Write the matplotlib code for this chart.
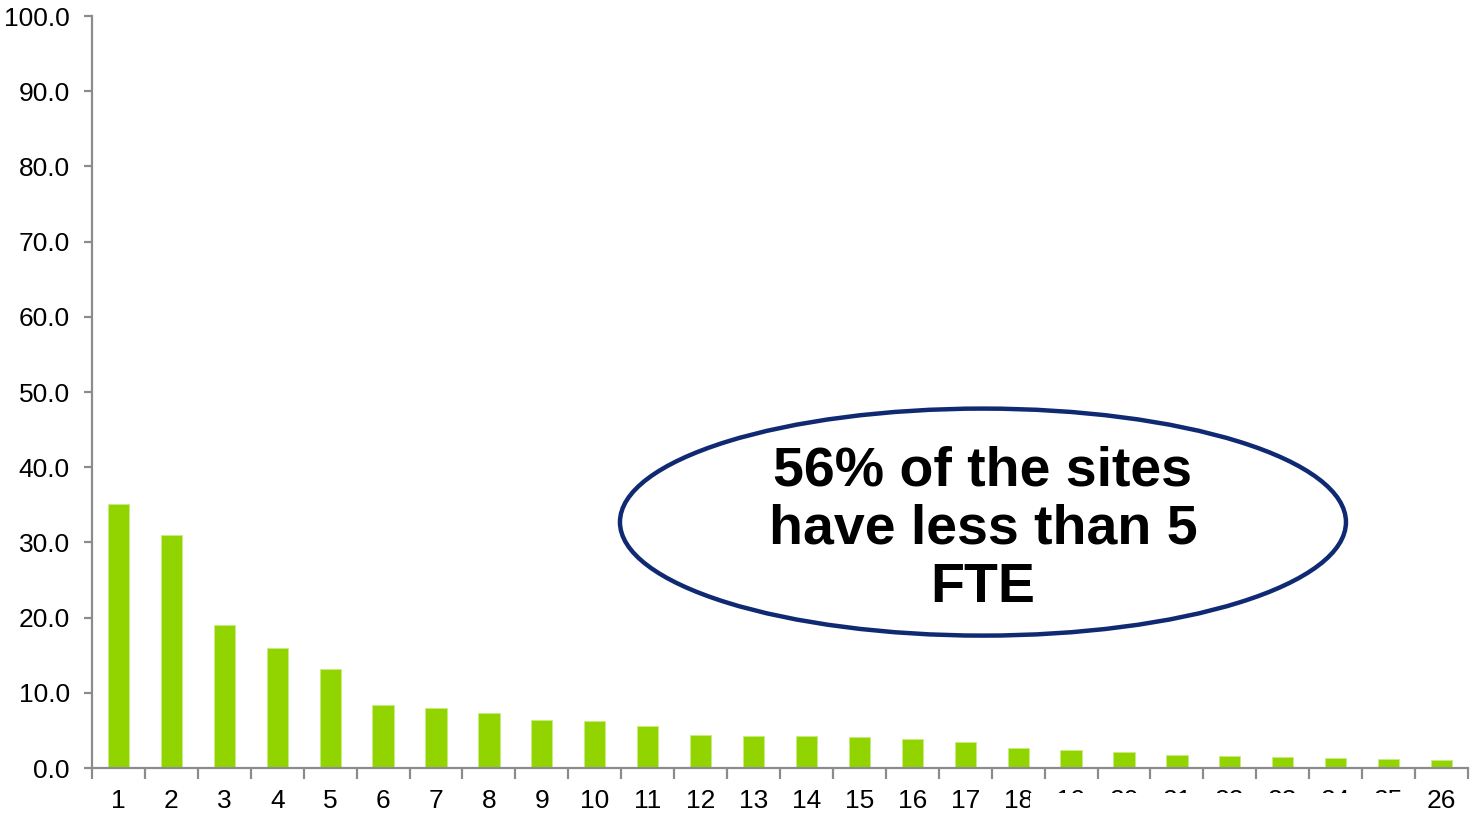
import numpy as np
import matplotlib
matplotlib.use("Agg")
import matplotlib.pyplot as plt
from matplotlib.patches import Ellipse, Rectangle

plt.rcParams['font.family'] = ['Liberation Sans', 'DejaVu Sans']

sites = [str(i) for i in range(1, 27)]
fte = [35.1, 31.0, 19.0, 16.0, 13.2, 8.4, 8.0, 7.3, 6.4, 6.25, 5.6, 4.4, 4.3,
       4.3, 4.1, 3.9, 3.5, 2.65, 2.4, 2.1, 1.7, 1.55, 1.5, 1.3, 1.2, 1.05]
y_ticks = np.arange(0, 101, 10)
note = "56% of the sites\nhave less than 5\nFTE"

fig = plt.figure(figsize=(14.7, 8.13), dpi=100)
ax = fig.add_axes([92 / 1470, 45 / 813, 1376 / 1470, 752 / 813])

x = np.arange(len(sites))
ax.bar(x, fte, width=0.4, color='#92d400', edgecolor='#c8ec80', linewidth=0.6)

ax.set_xlim(-0.5, len(sites) - 0.5)
ax.set_ylim(0, 100)
ax.set_yticks(y_ticks)
ax.set_yticklabels([f"{v:.1f}" for v in y_ticks])
ax.set_xticks(x)
ax.set_xticklabels(sites)
ax.set_xticks(np.arange(-0.5, len(sites)), minor=True)

for s in ['top', 'right']:
    ax.spines[s].set_visible(False)
for s in ['left', 'bottom']:
    ax.spines[s].set_color('#8c8c8c')
    ax.spines[s].set_linewidth(1.6)

ax.tick_params(axis='x', which='major', length=0, pad=15, labelsize=19)
ax.tick_params(axis='x', which='minor', length=8, width=1.6, color='#8c8c8c')
ax.tick_params(axis='y', length=6, width=1.6, color='#8c8c8c', pad=10,
               labelsize=19)

ell = Ellipse((0.6475, 0.327), 726 / 1376, 227 / 752, transform=ax.transAxes,
              facecolor='white', edgecolor='#0f2a72', linewidth=3.2, zorder=5)
ax.add_patch(ell)
ax.text(0.6475, 0.3165, note, transform=ax.transAxes, ha='center', va='center',
        fontsize=40, fontweight='bold', linespacing=1.15, zorder=6)

# white block that hides the lower half of labels 19-25 in the original
fig.add_artist(Rectangle((1030 / 1470, 0), 388 / 1470, 20 / 813,
                         transform=fig.transFigure, facecolor='white',
                         edgecolor='none', zorder=10))

fig.savefig("out.png", dpi=100)
